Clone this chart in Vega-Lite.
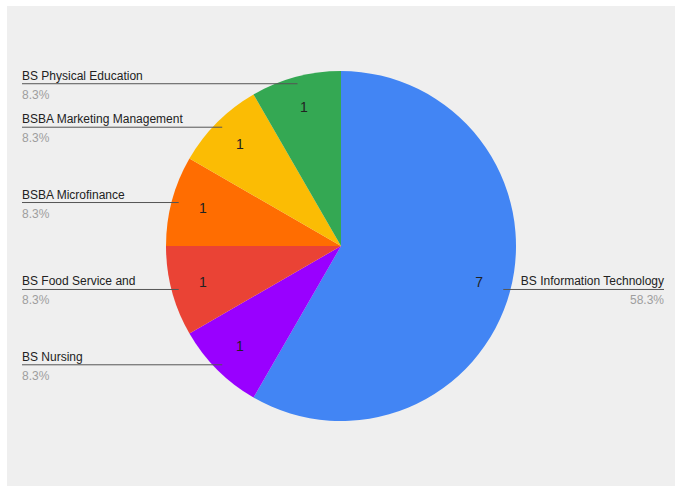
{
  "$schema": "https://vega.github.io/schema/vega-lite/v6.json",
  "autosize": {"type": "fit", "contains": "padding"},
  "width": 675,
  "height": 486,
  "padding": {"left": 7, "top": 6, "right": 0, "bottom": 0},
  "background": "white",
  "config": {
    "view": {"stroke": null, "fill": "#efefef"},
    "text": {"font": "Liberation Sans"}
  },
  "data": {
    "values": [
      {"program": "BS Information Technology", "count": 7, "order": 1},
      {"program": "BS Nursing", "count": 1, "order": 2},
      {"program": "BS Food Service and", "count": 1, "order": 3},
      {"program": "BSBA Microfinance", "count": 1, "order": 4},
      {"program": "BSBA Marketing Management", "count": 1, "order": 5},
      {"program": "BS Physical Education", "count": 1, "order": 6}
    ]
  },
  "transform": [
    {"window": [{"op": "sum", "field": "count", "as": "cum"}], "sort": [{"field": "order"}], "frame": [null, 0]},
    {"joinaggregate": [{"op": "sum", "field": "count", "as": "total"}]},
    {"calculate": "datum.count / datum.total", "as": "share"},
    {"calculate": "2 * PI * (datum.cum - datum.count / 2) / datum.total", "as": "mid"},
    {"calculate": "168 * sin(datum.mid)", "as": "lx"},
    {"calculate": "168 * cos(datum.mid)", "as": "ly"},
    {"calculate": "datum.lx < 0 ? 'left' : 'right'", "as": "side"},
    {"calculate": "datum.lx < 0 ? -319 : 323", "as": "labx"}
  ],
  "layer": [
    {
      "mark": {"type": "arc", "outerRadius": 175},
      "encoding": {
        "theta": {"field": "count", "type": "quantitative", "stack": true},
        "order": {"field": "order", "type": "quantitative"},
        "color": {
          "field": "program",
          "type": "nominal",
          "legend": null,
          "scale": {
            "domain": ["BS Information Technology", "BS Nursing", "BS Food Service and", "BSBA Microfinance", "BSBA Marketing Management", "BS Physical Education"],
            "range": ["#4285f4", "#9900ff", "#ea4335", "#ff6d01", "#fbbc04", "#34a853"]
          }
        }
      }
    },
    {
      "mark": {"type": "text", "radius": 143, "fontSize": 14, "color": "#222222"},
      "encoding": {
        "theta": {"field": "count", "type": "quantitative", "stack": true},
        "order": {"field": "order", "type": "quantitative"},
        "text": {"field": "count", "type": "quantitative"}
      }
    },
    {
      "mark": {"type": "rule", "color": "#555555", "strokeWidth": 1},
      "encoding": {
        "x": {"field": "labx", "type": "quantitative", "axis": null, "scale": {"domain": [-334, 334], "nice": false, "zero": false}},
        "x2": {"field": "lx"},
        "y": {"field": "ly", "type": "quantitative", "axis": null, "scale": {"domain": [-240, 240], "nice": false, "zero": false}}
      }
    },
    {
      "transform": [{"filter": "datum.side == 'left'"}],
      "mark": {"type": "text", "align": "left", "baseline": "alphabetic", "dy": -4, "fontSize": 12, "color": "#222222"},
      "encoding": {
        "x": {"field": "labx", "type": "quantitative"},
        "y": {"field": "ly", "type": "quantitative"},
        "text": {"field": "program", "type": "nominal"}
      }
    },
    {
      "transform": [{"filter": "datum.side == 'left'"}],
      "mark": {"type": "text", "align": "left", "baseline": "alphabetic", "dy": 15, "fontSize": 12, "color": "#9e9e9e"},
      "encoding": {
        "x": {"field": "labx", "type": "quantitative"},
        "y": {"field": "ly", "type": "quantitative"},
        "text": {"field": "share", "type": "quantitative", "format": ".1%"}
      }
    },
    {
      "transform": [{"filter": "datum.side == 'right'"}],
      "mark": {"type": "text", "align": "right", "baseline": "alphabetic", "dy": -4, "fontSize": 12, "color": "#222222"},
      "encoding": {
        "x": {"field": "labx", "type": "quantitative"},
        "y": {"field": "ly", "type": "quantitative"},
        "text": {"field": "program", "type": "nominal"}
      }
    },
    {
      "transform": [{"filter": "datum.side == 'right'"}],
      "mark": {"type": "text", "align": "right", "baseline": "alphabetic", "dy": 15, "fontSize": 12, "color": "#9e9e9e"},
      "encoding": {
        "x": {"field": "labx", "type": "quantitative"},
        "y": {"field": "ly", "type": "quantitative"},
        "text": {"field": "share", "type": "quantitative", "format": ".1%"}
      }
    }
  ]
}
